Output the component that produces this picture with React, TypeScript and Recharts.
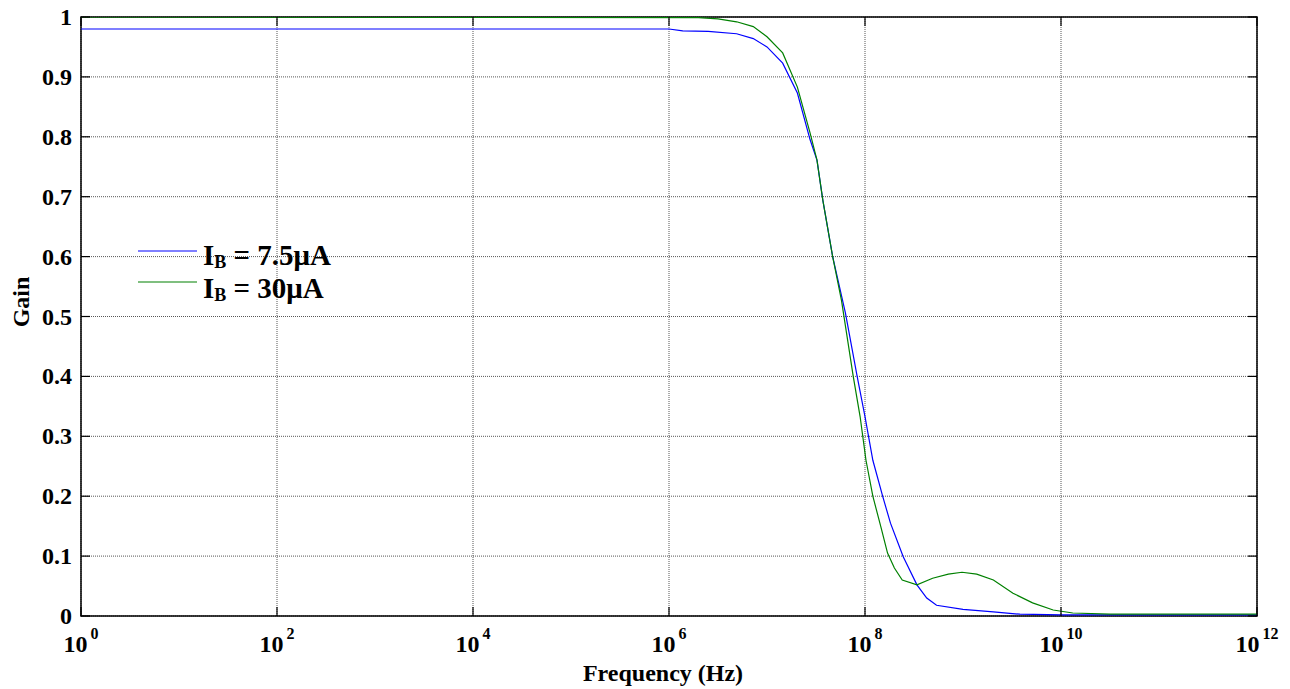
import { LineChart, Line, XAxis, YAxis, CartesianGrid, ReferenceArea } from 'recharts';

// frequency as log10(Hz), gain as a ratio
const blueLogF = [0, 6.0, 6.14, 6.4, 6.69, 6.86, 7.0, 7.16, 7.31, 7.44, 7.51, 7.57, 7.67, 7.8, 7.92, 8.0, 8.08, 8.18, 8.26, 8.39, 8.53, 8.63, 8.73, 9.0, 9.31, 9.58, 10.0, 12];
const blueGain = [0.98, 0.98, 0.977, 0.976, 0.972, 0.964, 0.95, 0.923, 0.873, 0.795, 0.761, 0.694, 0.6, 0.506, 0.4, 0.333, 0.26, 0.2, 0.155, 0.099, 0.052, 0.03, 0.018, 0.011, 0.007, 0.003, 0.002, 0.002];

const greenLogF = [0, 6.3, 6.5, 6.69, 6.86, 7.0, 7.16, 7.31, 7.44, 7.51, 7.57, 7.67, 7.76, 7.88, 7.95, 8.01, 8.08, 8.16, 8.23, 8.3, 8.38, 8.53, 8.69, 8.85, 8.99, 9.14, 9.31, 9.51, 9.71, 9.92, 10.12, 10.5, 12];
const greenGain = [1.0, 0.999, 0.997, 0.992, 0.984, 0.967, 0.94, 0.883, 0.806, 0.761, 0.694, 0.6, 0.527, 0.4, 0.333, 0.26, 0.2, 0.15, 0.105, 0.08, 0.06, 0.052, 0.063, 0.07, 0.073, 0.07, 0.06, 0.038, 0.022, 0.01, 0.005, 0.003, 0.003];

const xTicks = [0, 2, 4, 6, 8, 10, 12];
const yTicks = [0, 0.1, 0.2, 0.3, 0.4, 0.5, 0.6, 0.7, 0.8, 0.9, 1];

const blueData = blueLogF.map((f, i) => ({ f, g: blueGain[i] }));
const greenData = greenLogF.map((f, i) => ({ f, g: greenGain[i] }));

const W = 1290;
const H = 689;
const LEFT = 81;
const TOP = 17;
const RIGHT = 1257;
const BOTTOM = 616;
const FONT = '"Liberation Serif", "Times New Roman", serif';

function XTick({ x, payload }: any) {
  return (
    <g>
      <line x1={x} y1={BOTTOM} x2={x} y2={BOTTOM - 9} stroke="#000" strokeWidth={1.2} />
      <line x1={x} y1={TOP} x2={x} y2={TOP + 9} stroke="#000" strokeWidth={1.2} />
      <text x={x} y={BOTTOM + 36} textAnchor="middle" fontFamily={FONT} fontWeight="bold" fontSize={24} fill="#000">
        10
        <tspan dx={3} dy={-13} fontSize={16}>{payload.value}</tspan>
      </text>
    </g>
  );
}

function YTick({ y, payload }: any) {
  return (
    <g>
      <line x1={LEFT} y1={y} x2={LEFT + 9} y2={y} stroke="#000" strokeWidth={1.2} />
      <line x1={RIGHT} y1={y} x2={RIGHT - 9} y2={y} stroke="#000" strokeWidth={1.2} />
      <text x={LEFT - 9} y={y + 8} textAnchor="end" fontFamily={FONT} fontWeight="bold" fontSize={24} fill="#000">
        {String(payload.value)}
      </text>
    </g>
  );
}

export default function App() {
  return (
    <div style={{ position: 'relative', width: W, height: H, background: '#fff' }}>
      <style>{'body{margin:0}'}</style>
      <LineChart width={W} height={H} margin={{ top: TOP, right: W - RIGHT, left: 0, bottom: 0 }}>
        <CartesianGrid stroke="#444" strokeDasharray="1 1" strokeWidth={0.9} />
        <XAxis
          type="number"
          dataKey="f"
          domain={[0, 12]}
          ticks={xTicks}
          allowDataOverflow
          height={H - BOTTOM}
          tickSize={0}
          tickMargin={0}
          tickLine={false}
          axisLine={false}
          tick={<XTick />}
          interval={0}
        />
        <YAxis
          type="number"
          domain={[0, 1]}
          ticks={yTicks}
          allowDataOverflow
          width={LEFT}
          tickSize={0}
          tickMargin={0}
          tickLine={false}
          axisLine={false}
          tick={<YTick />}
          interval={0}
        />
        <ReferenceArea x1={0} x2={12} y1={0} y2={1} fill="none" stroke="#000" strokeWidth={1.5} ifOverflow="visible" />
        <Line data={blueData} dataKey="g" type="linear" stroke="#0000ff" strokeWidth={1.2} dot={false} isAnimationActive={false} />
        <Line data={greenData} dataKey="g" type="linear" stroke="#008000" strokeWidth={1.2} dot={false} isAnimationActive={false} />
        <text x={663} y={681} textAnchor="middle" fontFamily={FONT} fontWeight="bold" fontSize={24} fill="#000">
          Frequency (Hz)
        </text>
        <text
          x={29}
          y={302}
          transform="rotate(-90 29 302)"
          textAnchor="middle"
          fontFamily={FONT}
          fontWeight="bold"
          fontSize={24}
          fill="#000"
        >
          Gain
        </text>
      </LineChart>
      <svg width={270} height={80} style={{ position: 'absolute', left: 130, top: 235 }}>
        <line x1={8} y1={16} x2={67} y2={16} stroke="#0000ff" strokeWidth={1.2} />
        <line x1={8} y1={47} x2={67} y2={47} stroke="#008000" strokeWidth={1.2} />
        <text x={73} y={30} fontFamily={FONT} fontWeight="bold" fontSize={29} fill="#000">
          I<tspan fontSize={18} dy={3}>B</tspan>
          <tspan dy={-3}> = 7.5μA</tspan>
        </text>
        <text x={73} y={63} fontFamily={FONT} fontWeight="bold" fontSize={29} fill="#000">
          I<tspan fontSize={18} dy={3}>B</tspan>
          <tspan dy={-3}> = 30μA</tspan>
        </text>
      </svg>
    </div>
  );
}
